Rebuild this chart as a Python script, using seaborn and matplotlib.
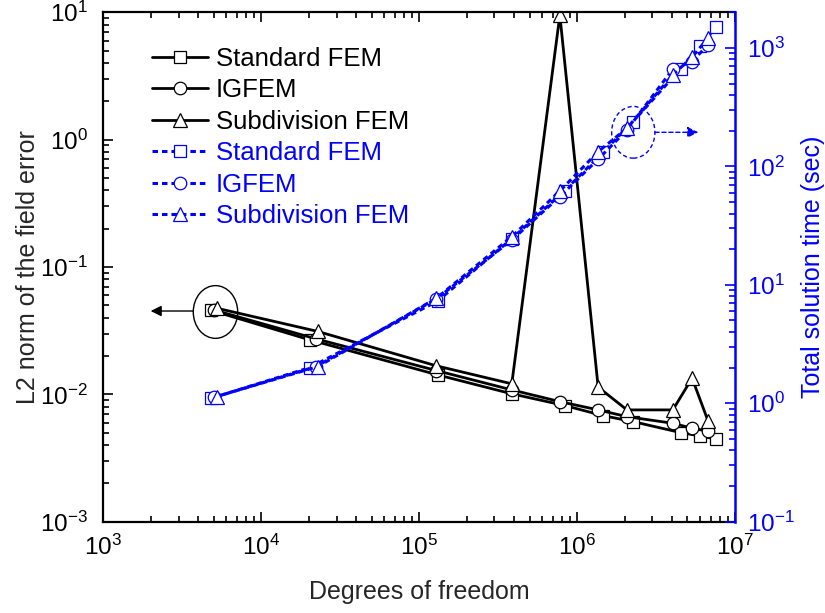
import matplotlib
matplotlib.use("Agg")
import matplotlib.pyplot as plt
import seaborn as sns
from matplotlib.patches import Ellipse
from matplotlib.ticker import LogLocator, NullFormatter

# ---------------- data ----------------
dof_std = [4800, 20300, 131000, 386000, 836000, 1.46e6, 2.26e6, 4.53e6, 5.98e6, 7.62e6]
dof_ig = [5000, 22200, 128500, 386000, 778000, 1.36e6, 2.07e6, 4.04e6, 5.35e6, 6.74e6]
dof_sub = [5220, 22800, 128500, 386000, 778000, 1.36e6, 2.07e6, 4.04e6, 5.35e6, 6.74e6]

err_std = [0.0457, 0.0268, 0.01422, 0.0101, 0.00817, 0.00681, 0.00611, 0.00501, 0.00472, 0.00445]
err_ig = [0.0460, 0.0273, 0.01538, 0.01084, 0.00877, 0.00755, 0.00668, 0.00593, 0.00542, 0.00516]
err_sub = [0.0475, 0.0312, 0.01675, 0.0121, 9.5, 0.0114, 0.00755, 0.00755, 0.0134, 0.00622]

time_std = [1.10, 2.0, 7.31, 24.5, 62.5, 131.8, 239, 666, 1028, 1500]
time_ig = [1.12, 2.04, 7.6, 23.9, 55.6, 115, 203, 662, 767, 1062]
time_sub = [1.14, 2.04, 7.7, 25.5, 62, 133, 210, 593, 836, 1211]

labels = ["Standard FEM", "IGFEM", "Subdivision FEM"]
xlabel = "Degrees of freedom"
ylabel_left = "L2 norm of the field error"
ylabel_right = "Total solution time (sec)"

BLUE = "#0000FF"

# ---------------- style ----------------
sns.set_style("ticks")
plt.rcParams["font.family"] = ["Liberation Sans", "DejaVu Sans"]
plt.rcParams["mathtext.fontset"] = "custom"
plt.rcParams["mathtext.rm"] = "Liberation Sans"
plt.rcParams["mathtext.it"] = "Liberation Sans:italic"
plt.rcParams["mathtext.bf"] = "Liberation Sans:bold"
plt.rcParams["mathtext.default"] = "regular"
plt.rcParams["axes.unicode_minus"] = False

fig = plt.figure(figsize=(8.25, 6.13), dpi=100)
ax = fig.add_axes([0.1252, 0.1489, 0.7657, 0.8311])
ax2 = ax.twinx()

for a in (ax, ax2):
    a.set_xscale("log")
    a.set_yscale("log")

markers = ["s", "o", "^"]
msizes = [8.5, 9, 10]
xs = [dof_std, dof_ig, dof_sub]
errs = [err_std, err_ig, err_sub]
times = [time_std, time_ig, time_sub]

for x, y, m, ms, lab in zip(xs, errs, markers, msizes, labels):
    sns.lineplot(x=x, y=y, ax=ax, estimator=None, sort=False, legend=False,
                 color="black", lw=2.0, marker=m, markersize=ms,
                 markerfacecolor="white", markeredgecolor="black",
                 markeredgewidth=0.9, label=lab)

for x, y, m, ms, lab in zip(xs, times, markers, msizes, labels):
    sns.lineplot(x=x, y=y, ax=ax2, estimator=None, sort=False, legend=False,
                 color=BLUE, lw=2.2, linestyle=(0, (1.8, 1.3)), marker=m,
                 markersize=ms, markerfacecolor="white", markeredgecolor=BLUE,
                 markeredgewidth=0.9, label=lab)

ax.set_xlim(1e3, 1e7)
ax.set_ylim(1e-3, 1e1)
ax2.set_ylim(1e-1, 2000)

# ticks
for a in (ax, ax2):
    a.xaxis.set_major_locator(LogLocator(base=10, numticks=10))
    a.xaxis.set_minor_locator(LogLocator(base=10, subs=range(2, 10), numticks=20))
    a.xaxis.set_minor_formatter(NullFormatter())
    a.yaxis.set_major_locator(LogLocator(base=10, numticks=10))
    a.yaxis.set_minor_locator(LogLocator(base=10, subs=range(2, 10), numticks=20))
    a.yaxis.set_minor_formatter(NullFormatter())

ax.tick_params(axis="both", which="both", direction="in", top=True, right=False,
               width=1.2, colors="black", labelsize=17.5)
ax.tick_params(axis="both", which="major", length=7)
ax.tick_params(axis="both", which="minor", length=4.5)
ax.tick_params(axis="x", which="major", pad=9)
ax.tick_params(axis="y", which="major", pad=11)

ax2.tick_params(axis="y", which="both", direction="in", right=True, left=False,
                width=1.2, colors=BLUE, labelsize=17.5)
ax2.tick_params(axis="y", which="major", length=7, pad=9)
ax2.tick_params(axis="y", which="minor", length=4.5)

for s in ("left", "bottom", "top"):
    ax.spines[s].set_linewidth(1.6)
    ax.spines[s].set_color("black")
ax.spines["right"].set_visible(False)
ax2.spines["left"].set_visible(False)
ax2.spines["bottom"].set_visible(False)
ax2.spines["top"].set_visible(False)
ax2.spines["right"].set_color(BLUE)
ax2.spines["right"].set_linewidth(1.8)

ax.set_xlabel(xlabel, fontsize=18, labelpad=15)
ax.set_ylabel(ylabel_left, fontsize=18)
ax.yaxis.set_label_coords(-0.100, 0.5)
ax2.set_ylabel(ylabel_right, fontsize=18, color=BLUE, labelpad=4)

# annotations (in axes fraction)
ax.add_patch(Ellipse((0.1776, 0.4117), 0.0703, 0.1035, transform=ax.transAxes,
                     fill=False, edgecolor="black", lw=1.0, zorder=5))
ax.annotate("", xy=(0.075, 0.4136), xytext=(0.142, 0.4136),
            xycoords="axes fraction", textcoords="axes fraction",
            arrowprops=dict(arrowstyle="-|>", color="black", lw=1.0,
                            mutation_scale=16, shrinkA=0, shrinkB=0))
ax2.add_patch(Ellipse((0.839, 0.7644), 0.0685, 0.1015, transform=ax2.transAxes,
                      fill=False, edgecolor=BLUE, lw=1.0, linestyle=(0, (3, 2)),
                      zorder=5))
ax2.annotate("", xy=(0.9419, 0.7644), xytext=(0.8733, 0.7644),
             xycoords="axes fraction", textcoords="axes fraction",
             arrowprops=dict(arrowstyle="-|>", color=BLUE, lw=1.0,
                             linestyle=(0, (3, 2)), mutation_scale=16,
                             shrinkA=0, shrinkB=0))

# legend
h1, l1 = ax.get_legend_handles_labels()
h2, l2 = ax2.get_legend_handles_labels()
leg = ax2.legend(h1 + h2, l1 + l2, loc="upper left",
                 bbox_to_anchor=(0.0766, 0.932), frameon=False, fontsize=18.5,
                 handlelength=2.2, handletextpad=0.3, labelspacing=0.29,
                 borderpad=0, borderaxespad=0, labelcolor="linecolor")

fig.savefig("out.png", dpi=100)
